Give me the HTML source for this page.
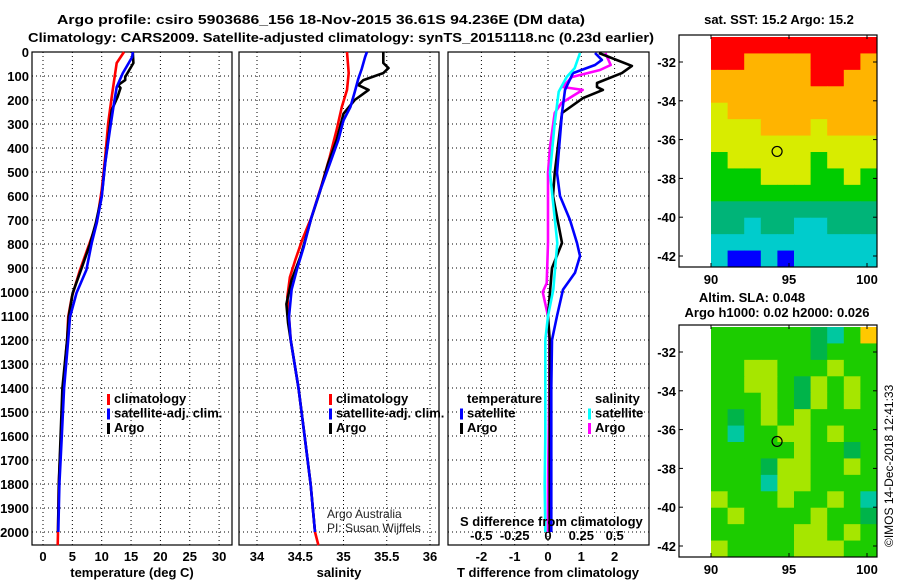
<!DOCTYPE html>
<html><head><meta charset="utf-8"><style>
html,body{margin:0;padding:0;background:#fff;}
svg{display:block;font-family:"Liberation Sans",Arial,sans-serif;}
.b{font-weight:bold;font-size:13px;}
</style></head><body>
<svg id="chart" width="900" height="580" viewBox="0 0 900 580" xmlns="http://www.w3.org/2000/svg">
<text x="321" y="24" text-anchor="middle" class="b" font-size="14" textLength="528" lengthAdjust="spacingAndGlyphs">Argo profile: csiro 5903686_156 18-Nov-2015 36.61S 94.236E (DM data)</text>
<text x="341" y="42" text-anchor="middle" class="b" font-size="14" textLength="626" lengthAdjust="spacingAndGlyphs">Climatology: CARS2009. Satellite-adjusted climatology: synTS_20151118.nc (0.23d earlier)</text>
<text x="779" y="24" text-anchor="middle" class="b" font-size="12">sat. SST: 15.2 Argo: 15.2</text>
<text x="752" y="302" text-anchor="middle" class="b" font-size="12">Altim. SLA: 0.048</text>
<text x="777" y="317" text-anchor="middle" class="b" font-size="12">Argo h1000: 0.02 h2000: 0.026</text>
<text transform="translate(893,547) rotate(-90)" font-size="12">©IMOS 14-Dec-2018 12:41:33</text>
<g id="g"></g>
</svg>
<script>
// ---- data ----
const depthTicks = [0,100,200,300,400,500,600,700,800,900,1000,1100,1200,1300,1400,1500,1600,1700,1800,1900,2000];
const tempTicks = [0,5,10,15,20,25,30];
const salTicks = [34,34.5,35,35.5,36];
const salTickLabels = ["34","34.5","35","35.5","36"];
const tdiffTicks = [-2,-1,0,1,2];
const sdiffTicks = [-0.5,-0.25,0,0.25,0.5];
const sdiffTickLabels = ["-0.5","-0.25","0","0.25","0.5"];
const latTicks = [-32,-34,-36,-38,-40,-42];
const lonTicks = [90,95,100];

const climTDepth = [0,46,88,188,296,438,575,713,813,908,1021,1104,1200,1400,1600,1800,2000,2055];
const climT = [13.8,12.55,12.3,11.7,11.1,10.6,10.0,9.15,7.7,6.3,4.9,4.3,4.1,3.4,3.07,2.7,2.56,2.5];
const satTDepth = [0,21,88,146,229,325,463,604,713,796,908,1004,1104,1200,1400,1600,1800,2000];
const satT = [15.3,15.2,13.6,12.55,12.0,11.4,10.6,10.0,9.15,8.3,7.4,5.7,4.6,4.3,3.6,3.2,2.8,2.6];
const argoTDepth = [0,46,104,117,138,150,188,242,325,460,600,713,800,900,1004,1100,1200,1400,1600,1800,2000];
const argoT = [15.3,15.4,14.0,14.0,12.8,13.2,12.7,11.7,11.3,10.6,10.0,9.0,8.0,6.6,5.06,4.4,4.1,3.3,3.0,2.7,2.55];

const climSDepth = [0,88,158,229,325,438,550,688,785,869,938,1021,1104,1200,1400,1600,1800,2000,2055];
const climS = [35.04,35.06,35.04,34.98,34.92,34.84,34.75,34.63,34.52,34.44,34.38,34.35,34.37,34.39,34.48,34.55,34.62,34.67,34.71];
const satSDepth = [0,21,71,113,167,229,285,367,467,578,688,813,908,990,1104,1200,1400,1600,1800,2000];
const satS = [35.27,35.25,35.21,35.17,35.13,35.08,35.0,34.94,34.84,34.73,34.63,34.54,34.46,34.40,34.37,34.39,34.48,34.55,34.62,34.67];
const argoSDepth = [0,46,67,88,117,138,158,200,257,367,467,580,690,854,950,1050,1130,1200,1400,1600,1800,2000];
const argoS = [35.46,35.46,35.52,35.46,35.23,35.17,35.29,35.13,35.0,34.92,34.82,34.73,34.63,34.5,34.40,34.34,34.36,34.39,34.48,34.55,34.62,34.67];

const argoTdDepth = [4,58,88,129,146,158,192,254,504,600,796,900,1100,1200,1400,1600,1800,2000];
const argoTd = [1.53,2.52,2.22,1.47,1.47,1.65,1.05,0.42,0.2,0.15,0.42,0.12,0.0,0.05,0.05,0.05,0.05,0.05];
const satTdDepth = [4,33,54,88,158,254,504,600,700,796,850,920,990,1100,1200,1400,1600,1800,2000];
const satTd = [1.41,1.62,1.41,0.75,0.51,0.42,0.27,0.36,0.66,0.87,0.96,0.81,0.45,0.27,0.12,0.1,0.1,0.1,0.1];
const argoSdDepth = [4,54,75,104,146,158,213,254,396,504,796,963,1000,1100,1200,1400,1600,1800,2000];
const argoSd = [0.43,0.47,0.39,0.18,0.11,0.26,0.10,0.05,0.015,0,0,-0.01,-0.04,0,0.01,0.01,0.005,0,0];
const satSdDepth = [4,67,104,166,296,504,796,990,1100,1200,1400,1600,1800,2000];
const satSd = [0.24,0.2,0.14,0.08,0.05,0.015,0.07,0.04,0,-0.02,-0.02,-0.02,-0.025,-0.02];

const sstGrid = [
"RRRRRRRRRR","RROOOORRRO","OOOOOORROO","OOOOOOOOOO","YOOOOOOOOO","YYYOOOYOOO","YYYYYYYYYY",
"GYYYYYGYYY","GGGYYYGGYG","GGGGGGGGGG","TTTTTTTTTT","TTCTTCCTTT","CCCCCCCCCC","CBBCBCCCCC"];
const slaGrid = [
"GGGGGGDTGO","GGGGGGDGGG","GGLLGGGLGG","GGLLGDLGLG","GGGLGDLGLG","GDGLGLGGGG","GTGGLLGLGG",
"GGGGGLGGDG","GGGDLLGGLG","GGGTLLGGGG","LGGGLGGLGT","GLGGGGLGGD","GGGGGLLGLG","LGGGGLLLGG"];
const argoLon = 94.236, argoLat = -36.61;

// ---- helpers / scales ----
const g = document.getElementById('g');
const NS = 'http://www.w3.org/2000/svg';
function mk(tag, attrs, parent){const e=document.createElementNS(NS,tag);for(const k in attrs)e.setAttribute(k,attrs[k]);(parent||g).appendChild(e);return e;}
const yD = d => 52 + 0.24*d;
const xT = t => 43 + 5.87*t;
const xS = s => 257 + 86.5*(s-34);
const xTd = v => 548 + 33.3*v;
const xSd = v => 548 + 133.3*v;
const TOP=52, BOT=545;
const panels = [[32,232],[239,439],[448,649]];

// depth gridlines and frames
panels.forEach((p,i)=>{
  depthTicks.forEach(d=>{
    const l=mk('line',{x1:p[0],x2:p[1],y1:yD(d),y2:yD(d),stroke:'#000','stroke-width':1,'stroke-dasharray':'1,3'});
    
    
  });
});
depthTicks.forEach(d=>{
  const t=mk('text',{x:29,y:yD(d)+5,'text-anchor':'end',class:'b'});
  t.textContent=d;
  
  
});
function xgrid(ticks, fx, labels, ly, name){
  ticks.forEach((v,i)=>{
    const l=mk('line',{x1:fx(v),x2:fx(v),y1:TOP,y2:BOT,stroke:'#000','stroke-width':1,'stroke-dasharray':'1,3'});
    
    
    if(ly){const t=mk('text',{x:fx(v),y:ly,'text-anchor':'middle',class:'b'});
    t.textContent=labels?labels[i]:v;
    
    }
  });
}
xgrid(tempTicks,xT,null,561,'temperature');
xgrid(salTicks,xS,salTickLabels,561,'salinity');
xgrid(tdiffTicks,xTd,null,561,'tdiff');
sdiffTicks.forEach((v,i)=>{
  const t=mk('text',{x:xSd(v),y:540,'text-anchor':'middle',class:'b'});
  t.textContent=sdiffTickLabels[i];
  
  
});
panels.forEach((p,i)=>{
  const r=mk('rect',{x:p[0],y:TOP,width:p[1]-p[0],height:BOT-TOP,fill:'none',stroke:'#000','stroke-width':1.2});
  
  
});

function series(depths, vals, fx, color, name){
  const pts=depths.map((d,i)=>fx(vals[i]).toFixed(1)+','+yD(d).toFixed(1)).join(' ');
  const pl=mk('polyline',{points:pts,fill:'none',stroke:color,'stroke-width':2.6,'stroke-linejoin':'round'});
  
  
}
series(climTDepth,climT,xT,'#ff0000','temp-climatology-line');
series(argoTDepth,argoT,xT,'#000','temp-argo-line');
series(satTDepth,satT,xT,'#0000ff','temp-satellite-line');
series(climSDepth,climS,xS,'#ff0000','sal-climatology-line');
series(argoSDepth,argoS,xS,'#000','sal-argo-line');
series(satSDepth,satS,xS,'#0000ff','sal-satellite-line');
series(argoSdDepth,argoSd,xSd,'#ff00ff','sdiff-argo-line');
series(argoTdDepth,argoTd,xTd,'#000','tdiff-argo-line');
series(satTdDepth,satTd,xTd,'#0000ff','tdiff-satellite-line');
series(satSdDepth,satSd,xSd,'#00ffff','sdiff-satellite-line');

function legend(x,y,color,label,name){
  const r=mk('rect',{x:x,y:y-9,width:3,height:11,fill:color});
  
  
  const t=mk('text',{x:x+7,y:y,class:'b',fill:'#000'});
  t.textContent=label;
  
  
}
[[107,'climatology','#ff0000'],[107,'satellite-adj. clim.','#0000ff'],[107,'Argo','#000']].forEach((e,i)=>legend(e[0],403+i*14.5,e[2],e[1],'temp-legend-entry'));
[[329,'climatology','#ff0000'],[329,'satellite-adj. clim.','#0000ff'],[329,'Argo','#000']].forEach((e,i)=>legend(e[0],403+i*14.5,e[2],e[1],'sal-legend-entry'));
legend(460,417.5,'#0000ff','satellite','tdiff-legend-satellite');
legend(460,432,'#000','Argo','tdiff-legend-argo');
legend(588,417.5,'#00ffff','satellite','sdiff-legend-satellite');
legend(588,432,'#ff00ff','Argo','sdiff-legend-argo');
function txt(x,y,s,name,extra){const t=mk('text',Object.assign({x:x,y:y,class:'b'},extra||{}));t.textContent=s;return t;}
txt(467,403,'temperature','tdiff-legend-heading');
txt(595,403,'salinity','sdiff-legend-heading');
txt(460,526,'S difference from climatology','sdiff-axis-title');
txt(132,577,'temperature (deg C)','temperature-axis-title',{'text-anchor':'middle'});
txt(339,577,'salinity','salinity-axis-title',{'text-anchor':'middle'});
txt(548,577,'T difference from climatology','tdiff-axis-title',{'text-anchor':'middle'});
const a1=txt(327,518,'Argo Australia','credit-line-1',{'font-weight':'normal','font-size':12});a1.setAttribute('class','');a1.setAttribute('fill','#222');
const a2=txt(327,532,'PI: Susan Wijffels','credit-line-2',{'font-weight':'normal','font-size':12});a2.setAttribute('class','');a2.setAttribute('fill','#222');

// ---- maps ----
const sstColors={R:'#ff0000',O:'#ffb400',Y:'#d8ec00',G:'#00cc00',T:'#00b478',C:'#00cccc',B:'#0000ff'};
const slaColors={G:'#1ccc00',L:'#a6e600',D:'#00b44a',T:'#00c8a0',O:'#ffc800'};
function map(top, latTopY, grid, colors, name){
  const bx0=679,bx1=877,dx0=711,dy0=top+2,dy1=top+232;
  const lonX = lon => 711 + 15.6*(lon-90);
  const latY = lat => latTopY + 19.4*(-32-lat);
  const rows=grid.length, cols=grid[0].length;
  const cw=(bx1-dx0)/cols, ch=(dy1-dy0)/rows;
  grid.forEach((row,ri)=>{
    for(let ci=0;ci<cols;ci++){
      const r=mk('rect',{x:dx0+ci*cw,y:dy0+ri*ch,width:cw+0.5,height:ch+0.5,fill:colors[row[ci]]});
      
      
    }
  });
  const f=mk('rect',{x:bx0,y:top,width:bx1-bx0,height:dy1-top,fill:'none',stroke:'#000','stroke-width':1.2});
  
  
  latTicks.forEach(lat=>{
    mk('line',{x1:bx0,x2:bx0+4,y1:latY(lat),y2:latY(lat),stroke:'#000'});
    mk('line',{x1:bx1-4,x2:bx1,y1:latY(lat),y2:latY(lat),stroke:'#000'});
    const t=mk('text',{x:676,y:latY(lat)+5,'text-anchor':'end',class:'b'});
    t.textContent=lat;
    
    
  });
  lonTicks.forEach(lon=>{
    mk('line',{x1:lonX(lon),x2:lonX(lon),y1:dy1,y2:dy1-4,stroke:'#000'});
    mk('line',{x1:lonX(lon),x2:lonX(lon),y1:top,y2:top+4,stroke:'#000'});
    const t=mk('text',{x:lonX(lon),y:dy1+17,'text-anchor':'middle',class:'b'});
    t.textContent=lon;
    
    
  });
  const c=mk('circle',{cx:lonX(argoLon),cy:latY(argoLat),r:5,fill:'none',stroke:'#000','stroke-width':1.2});
  
  
}
map(35,62,sstGrid,sstColors,'sst-map');
map(325,352,slaGrid,slaColors,'sla-map');
</script>
</body></html>
